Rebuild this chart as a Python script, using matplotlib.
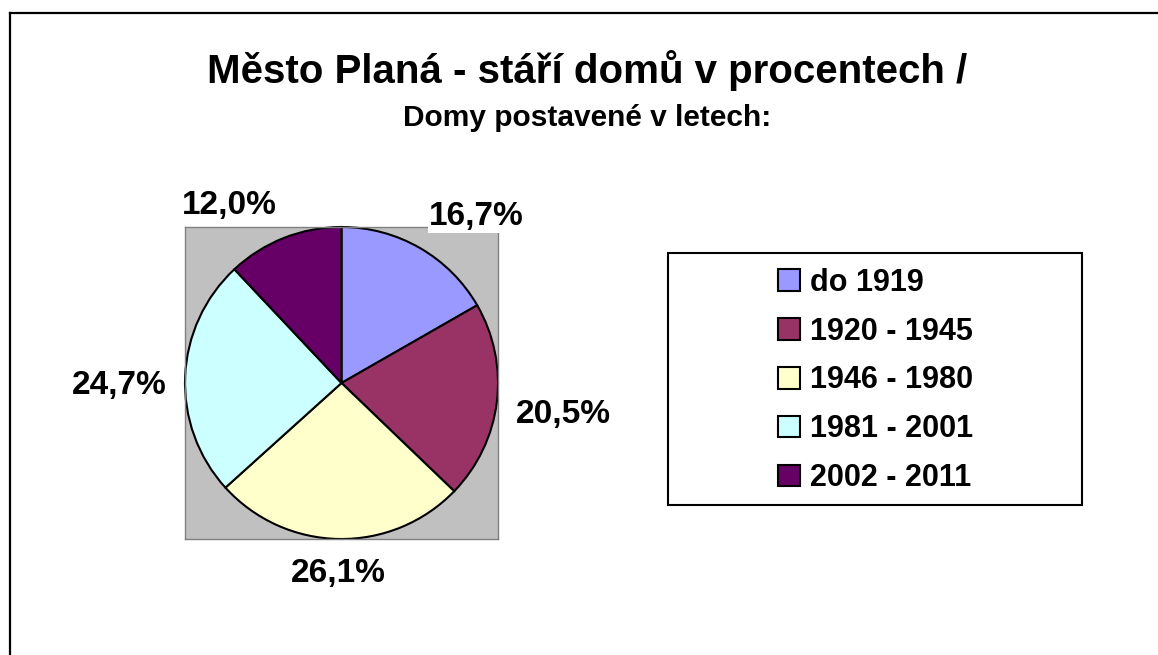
import matplotlib
matplotlib.use('Agg')
import matplotlib.pyplot as plt
import numpy as np
from matplotlib.patches import Rectangle
from matplotlib.lines import Line2D

categories = ['do 1919', '1920 - 1945', '1946 - 1980', '1981 - 2001', '2002 - 2011']
shares = [16.7, 20.5, 26.1, 24.7, 12.0]
colors = ['#9999FF', '#993366', '#FFFFCC', '#CCFFFF', '#660066']
title = 'Město Planá - stáří domů v procentech /'
subtitle = 'Domy postavené v letech:'

W, H = 1158, 655
plt.rcParams['font.family'] = ['Liberation Sans', 'DejaVu Sans']
fig = plt.figure(figsize=(W / 100, H / 100), dpi=100)
fig.patch.set_facecolor('white')


def px_axes(l, t, r, b):
    return [l / W, 1 - b / H, (r - l) / W, (b - t) / H]


ax = fig.add_axes(px_axes(185, 227, 498, 539))
wedges, _ = ax.pie(shares, colors=colors, startangle=90, counterclock=False,
                   radius=1, frame=True,
                   wedgeprops=dict(edgecolor='black', linewidth=1.5))
ax.set_facecolor('#C0C0C0')
ax.patch.set_visible(True)
ax.set_xlim(-1, 1)
ax.set_ylim(-1, 1)
ax.set_aspect('auto')
ax.set_xticks([])
ax.set_yticks([])
for s in ax.spines.values():
    s.set_visible(True)
    s.set_color('#808080')
    s.set_linewidth(1)

# data labels placed outside each wedge
label_r = 1.12
for w, v in zip(wedges, shares):
    th = np.deg2rad((w.theta1 + w.theta2) / 2)
    c, s = np.cos(th), np.sin(th)
    ha = 'left' if c > 0.3 else ('right' if c < -0.3 else 'center')
    va = 'bottom' if s > 0.3 else ('top' if s < -0.3 else 'center_baseline')
    ax.text(label_r * c, label_r * s - (0.04 if va == 'center_baseline' else 0),
            f'{v:.1f}%'.replace('.', ','),
            ha=ha, va=va, fontsize=24, fontweight='bold', clip_on=False,
            bbox=dict(facecolor='white', edgecolor='none', pad=1))

# title
fig.text(587 / W, 1 - 83 / H, title, ha='center', va='baseline',
         fontsize=29, fontweight='bold')
fig.text(587 / W, 1 - 126 / H, subtitle, ha='center', va='baseline',
         fontsize=21.5, fontweight='bold')

# legend
fig.add_artist(Rectangle((668 / W, 1 - 505 / H), (1082 - 668) / W, (505 - 253) / H,
                         transform=fig.transFigure, fill=False,
                         edgecolor='black', linewidth=1.5))
fig.legend(wedges, categories, loc='center',
           bbox_to_anchor=(876 / W, 1 - 380.5 / H), frameon=False,
           prop=dict(weight='bold', size=22), handlelength=0.7,
           handleheight=0.7, handletextpad=0.35, labelspacing=0.62,
           borderpad=0)

# chart area border (left and top visible)
lw = 1.6
fig.add_artist(Line2D([9.5 / W, 9.5 / W], [0, 1 - 12.5 / H],
                      transform=fig.transFigure, color='black', linewidth=lw))
fig.add_artist(Line2D([9.5 / W, 1], [1 - 12.5 / H, 1 - 12.5 / H],
                      transform=fig.transFigure, color='black', linewidth=lw))

fig.savefig('out.png', dpi=100, facecolor='white')
